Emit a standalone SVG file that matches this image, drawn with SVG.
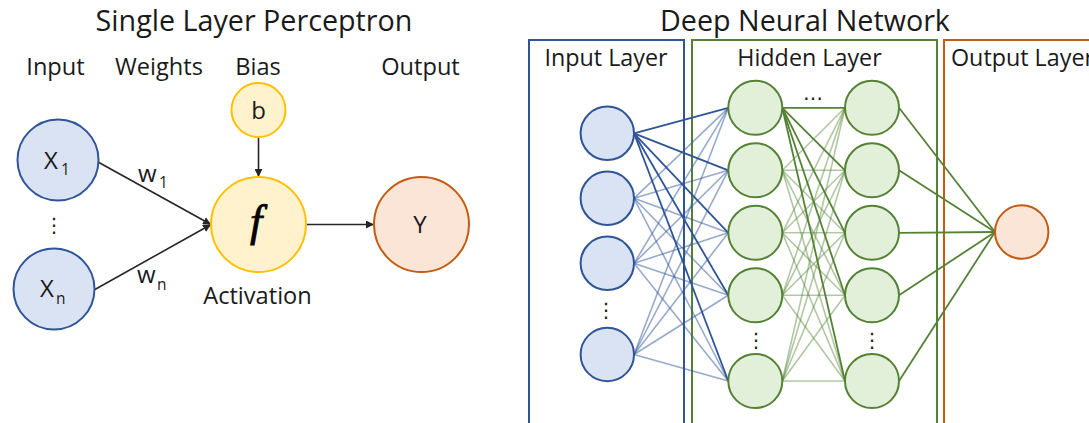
<svg xmlns="http://www.w3.org/2000/svg" width="1089" height="423" viewBox="0 0 1089 423">
  <style>
    text { font-family: "Open Sans", "Noto Sans", sans-serif; fill: #1a1a1a; }
    .title { font-size: 28.7px; text-anchor: middle; }
    .lbl { font-size: 23.6px; text-anchor: middle; }
    .lyr { font-size: 23.3px; }
    .nt { font-size: 24px; }
    .sub { font-size: 15.5px; }
    .dots { font-family: "DejaVu Sans", sans-serif; font-size: 20px; text-anchor: middle; }
    .blue { fill: #dae3f3; stroke: #2f5597; stroke-width: 2; }
    .yel { fill: #fff2cc; stroke: #ffc000; stroke-width: 2; }
    .org { fill: #fbe5d6; stroke: #c55a11; stroke-width: 2; }
    .grn { fill: #e2f0d9; stroke: #548235; stroke-width: 2; }
    .arr { stroke: #262626; stroke-width: 1.6; fill: none; marker-end: url(#ah); }
    .bd { stroke: #2f5597; stroke-width: 1.8; }
    .bl { stroke: #2f5597; stroke-opacity: 0.5; stroke-width: 1.6; }
    .gd { stroke: #548235; stroke-width: 1.8; }
    .gl { stroke: #548235; stroke-opacity: 0.45; stroke-width: 1.6; }
    .box { fill: none; stroke-width: 2; }
  </style>
  <defs>
    <marker id="ah" viewBox="0 0 10 10" refX="10" refY="5" markerWidth="5" markerHeight="5" markerUnits="strokeWidth" orient="auto">
      <path d="M0,0 L10,5 L0,10 z" fill="#262626"/>
    </marker>
  </defs>
  <rect width="1089" height="423" fill="#ffffff"/>

  <!-- Single layer perceptron -->
  <text class="title" x="254" y="31">Single Layer Perceptron</text>
  <text class="lbl" x="55.5" y="75">Input</text>
  <text class="lbl" x="159" y="75">Weights</text>
  <text class="lbl" x="258" y="75">Bias</text>
  <text class="lbl" x="420.5" y="75">Output</text>

  <g id="perceptron-connectors">
    <line class="arr" x1="98" y1="162" x2="211" y2="224.5"/>
    <line class="arr" x1="94" y1="290" x2="211" y2="224.5"/>
    <line class="arr" x1="258.5" y1="137" x2="258.5" y2="177"/>
    <line class="arr" x1="306" y1="224.5" x2="374" y2="224.5"/>
    <text class="nt" x="138" y="182">w</text><text class="sub" x="159" y="188">1</text>
    <text class="nt" x="137" y="283">w</text><text class="sub" x="157" y="290">n</text>
  </g>

  <g id="x1">
    <circle class="blue" cx="58" cy="160" r="40.5"/>
    <text class="nt" x="44" y="169">X</text><text class="sub" x="61" y="175">1</text>
  </g>
  <text class="dots" x="54" y="232">⋮</text>
  <g id="xn">
    <circle class="blue" cx="54" cy="289" r="40.5"/>
    <text class="nt" x="40" y="297">X</text><text class="sub" x="56" y="304">n</text>
  </g>
  <g id="bias">
    <circle class="yel" cx="258.5" cy="110" r="27"/>
    <text class="nt" x="258.5" y="119" text-anchor="middle">b</text>
  </g>
  <g id="activation">
    <circle class="yel" cx="258.5" cy="224.5" r="47.5"/>
    <text x="256" y="236" text-anchor="middle" style="font-family: 'Liberation Serif', serif; font-style: italic; font-size: 44px; fill: #000; stroke: #000; stroke-width: 0.8;">f</text>
    <text class="lbl" x="257.5" y="304">Activation</text>
  </g>
  <g id="output-y">
    <circle class="org" cx="421.5" cy="224.5" r="47.5"/>
    <text class="nt" x="420" y="233" text-anchor="middle">Y</text>
  </g>

  <!-- Deep neural network -->
  <text class="title" x="805" y="31">Deep Neural Network</text>
  <g id="layer-boxes">
    <rect class="box" x="529" y="40" width="155" height="400" stroke="#2f5597"/>
    <rect class="box" x="692" y="40" width="245" height="400" stroke="#548235"/>
    <rect class="box" x="944" y="40" width="160" height="400" stroke="#c55a11"/>
    <text class="lyr" x="606" y="66" text-anchor="middle">Input Layer</text>
    <text class="lyr" x="809.5" y="66" text-anchor="middle">Hidden Layer</text>
    <text class="lyr" x="951" y="66">Output Layer</text>
  </g>

  <g id="connectors">
    <!-- input to hidden, light -->
    <g class="bl">
      <line x1="634" y1="198.3" x2="728.3" y2="107.8"/><line x1="634" y1="198.3" x2="728.3" y2="170.3"/><line x1="634" y1="198.3" x2="728.3" y2="232.8"/><line x1="634" y1="198.3" x2="728.3" y2="295.3"/><line x1="634" y1="198.3" x2="728.3" y2="381"/>
      <line x1="634" y1="263.3" x2="728.3" y2="107.8"/><line x1="634" y1="263.3" x2="728.3" y2="170.3"/><line x1="634" y1="263.3" x2="728.3" y2="232.8"/><line x1="634" y1="263.3" x2="728.3" y2="295.3"/><line x1="634" y1="263.3" x2="728.3" y2="381"/>
      <line x1="634" y1="354.5" x2="728.3" y2="107.8"/><line x1="634" y1="354.5" x2="728.3" y2="170.3"/><line x1="634" y1="354.5" x2="728.3" y2="232.8"/><line x1="634" y1="354.5" x2="728.3" y2="295.3"/><line x1="634" y1="354.5" x2="728.3" y2="381"/>
    </g>
    <!-- input to hidden, dark -->
    <g class="bd">
      <line x1="634" y1="133.3" x2="728.3" y2="107.8"/><line x1="634" y1="133.3" x2="728.3" y2="170.3"/><line x1="634" y1="133.3" x2="728.3" y2="232.8"/><line x1="634" y1="133.3" x2="728.3" y2="295.3"/><line x1="634" y1="133.3" x2="728.3" y2="381"/>
    </g>
    <!-- hidden to hidden, light -->
    <g class="gl">
      <line x1="782.3" y1="170.3" x2="845" y2="107.8"/><line x1="782.3" y1="170.3" x2="845" y2="170.3"/><line x1="782.3" y1="170.3" x2="845" y2="232.8"/><line x1="782.3" y1="170.3" x2="845" y2="295.3"/><line x1="782.3" y1="170.3" x2="845" y2="381"/>
      <line x1="782.3" y1="232.8" x2="845" y2="107.8"/><line x1="782.3" y1="232.8" x2="845" y2="170.3"/><line x1="782.3" y1="232.8" x2="845" y2="232.8"/><line x1="782.3" y1="232.8" x2="845" y2="295.3"/><line x1="782.3" y1="232.8" x2="845" y2="381"/>
      <line x1="782.3" y1="295.3" x2="845" y2="107.8"/><line x1="782.3" y1="295.3" x2="845" y2="170.3"/><line x1="782.3" y1="295.3" x2="845" y2="232.8"/><line x1="782.3" y1="295.3" x2="845" y2="295.3"/><line x1="782.3" y1="295.3" x2="845" y2="381"/>
      <line x1="782.3" y1="381" x2="845" y2="107.8"/><line x1="782.3" y1="381" x2="845" y2="170.3"/><line x1="782.3" y1="381" x2="845" y2="232.8"/><line x1="782.3" y1="381" x2="845" y2="295.3"/><line x1="782.3" y1="381" x2="845" y2="381"/>
    </g>
    <!-- hidden to hidden, dark -->
    <g class="gd">
      <line x1="782.3" y1="107.8" x2="845" y2="107.8"/><line x1="782.3" y1="107.8" x2="845" y2="170.3"/><line x1="782.3" y1="107.8" x2="845" y2="232.8"/><line x1="782.3" y1="107.8" x2="845" y2="295.3"/><line x1="782.3" y1="107.8" x2="845" y2="381"/>
      <!-- hidden to output -->
      <line x1="899" y1="107.8" x2="995" y2="232"/><line x1="899" y1="170.3" x2="995" y2="232"/><line x1="899" y1="232.8" x2="995" y2="232"/><line x1="899" y1="295.3" x2="995" y2="232"/><line x1="899" y1="381" x2="995" y2="232"/>
    </g>
  </g>

  <g id="input-nodes">
    <circle class="blue" cx="607.3" cy="133.3" r="26.7"/>
    <circle class="blue" cx="607.3" cy="198.3" r="26.7"/>
    <circle class="blue" cx="607.3" cy="263.3" r="26.7"/>
    <text class="dots" x="606" y="317">⋮</text>
    <circle class="blue" cx="607.3" cy="354.5" r="26.7"/>
  </g>
  <g id="hidden-col-1">
    <circle class="grn" cx="755.3" cy="107.8" r="27"/>
    <circle class="grn" cx="755.3" cy="170.3" r="27"/>
    <circle class="grn" cx="755.3" cy="232.8" r="27"/>
    <circle class="grn" cx="755.3" cy="295.3" r="27"/>
    <text class="dots" x="756" y="347">⋮</text>
    <circle class="grn" cx="755.3" cy="381" r="27"/>
  </g>
  <text class="dots" x="813" y="100">…</text>
  <g id="hidden-col-2">
    <circle class="grn" cx="872" cy="107.8" r="27"/>
    <circle class="grn" cx="872" cy="170.3" r="27"/>
    <circle class="grn" cx="872" cy="232.8" r="27"/>
    <circle class="grn" cx="872" cy="295.3" r="27"/>
    <text class="dots" x="872" y="347">⋮</text>
    <circle class="grn" cx="872" cy="381" r="27"/>
  </g>
  <g id="output-node">
    <circle class="org" cx="1021.7" cy="232" r="26.7"/>
  </g>
</svg>
